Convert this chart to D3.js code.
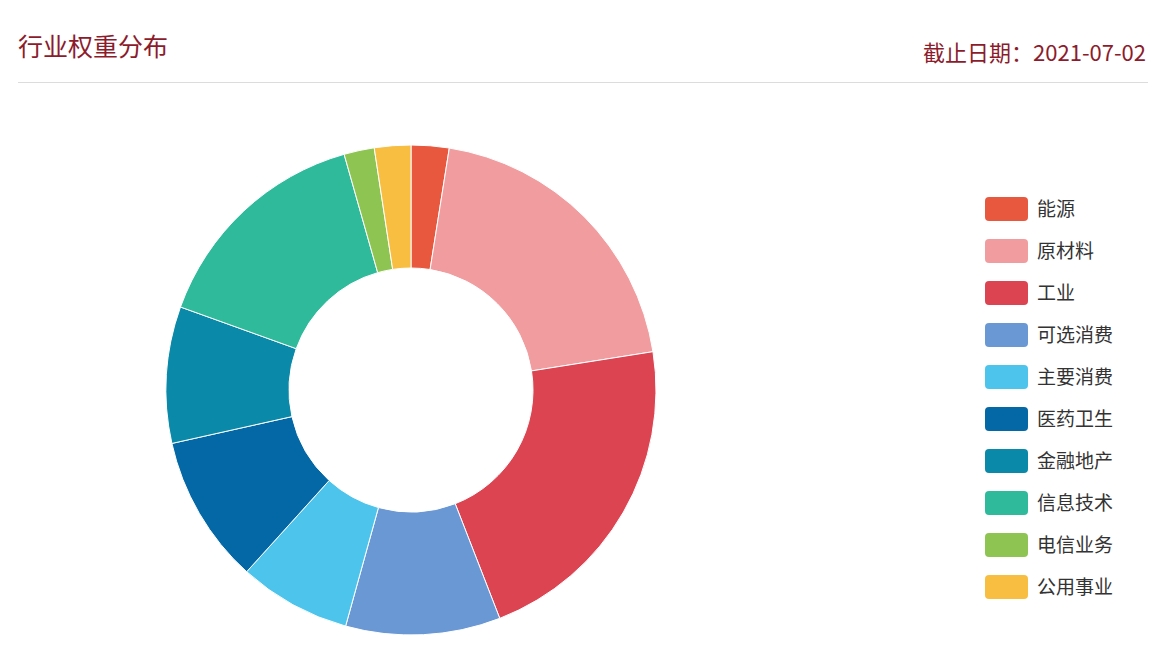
<!DOCTYPE html>
<html lang="zh">
<head>
<meta charset="UTF-8">
<script src="https://d3js.org/d3.v7.min.js"></script>
<style>
  body { margin: 0; background: #fff; font-family: "Noto Sans CJK SC", "Noto Sans", sans-serif; }
</style>
</head>
<body>
<svg id="chart" width="1168" height="661"></svg>
<script>
// industry weights (%)
const categories = ["能源", "原材料", "工业", "可选消费", "主要消费", "医药卫生", "金融地产", "信息技术", "电信业务", "公用事业"];
const weights = [2.5, 20.0, 21.6, 10.2, 7.4, 9.8, 9.0, 15.1, 2.0, 2.4];
const colors = ["#e8583f", "#f19d9f", "#dc4452", "#6a98d4", "#4dc4ec", "#0468a6", "#0a89a8", "#2fbb9b", "#8ec452", "#f7be42"];

const svg = d3.select("#chart");

// header
svg.append("text").attr("x", 18).attr("y", 56)
  .attr("font-size", 25).attr("fill", "#8c1c2c").text("行业权重分布");
svg.append("text").attr("x", 1146).attr("y", 61).attr("text-anchor", "end")
  .attr("font-size", 22).attr("fill", "#8c1c2c").text("截止日期：2021-07-02");
svg.append("line").attr("x1", 18).attr("x2", 1148).attr("y1", 82.5).attr("y2", 82.5)
  .attr("stroke", "#dcdcdc");

// donut
const data = categories.map((c, i) => ({ name: c, value: weights[i], color: colors[i] }));
const pie = d3.pie().value(d => d.value).sort(null);
const arc = d3.arc().innerRadius(122).outerRadius(245);

svg.append("g")
  .attr("transform", "translate(411,390)")
  .selectAll("path")
  .data(pie(data))
  .join("path")
  .attr("d", arc)
  .attr("fill", d => d.data.color)
  .attr("stroke", "#fff")
  .attr("stroke-width", 1);

// legend
const y = d3.scaleBand().domain(categories).range([188, 608]);
const legend = svg.append("g").selectAll("g")
  .data(data)
  .join("g")
  .attr("transform", d => `translate(985,${y(d.name) + y.bandwidth() / 2})`);
legend.append("rect")
  .attr("x", 0).attr("y", -12).attr("width", 43).attr("height", 24)
  .attr("rx", 4).attr("fill", d => d.color);
legend.append("text")
  .attr("x", 52).attr("y", 7)
  .attr("font-size", 19).attr("fill", "#333")
  .text(d => d.name);
</script>
</body>
</html>
